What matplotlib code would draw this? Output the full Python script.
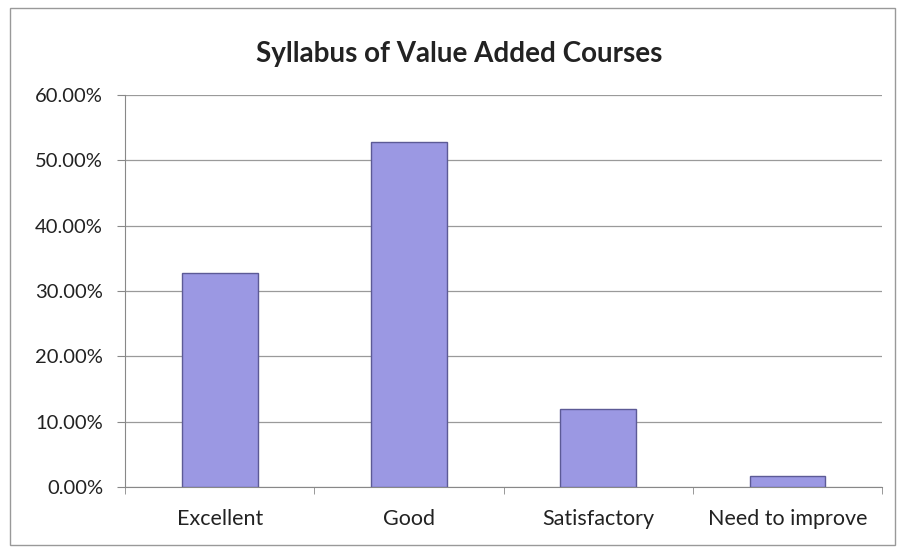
import matplotlib.pyplot as plt
from matplotlib.patches import Rectangle
from matplotlib.ticker import FuncFormatter, FixedLocator
import numpy as np

categories = ["Excellent", "Good", "Satisfactory", "Need to improve"]
values = [32.7, 52.8, 11.9, 1.7]
y_ticks = [0, 10, 20, 30, 40, 50, 60]

plt.rcParams['font.family'] = ['Lato', 'DejaVu Sans']

fig = plt.figure(figsize=(9.01, 5.48), dpi=100)
ax = fig.add_axes([0.139, 0.111, 0.840, 0.716])

x = np.arange(len(categories))
ax.bar(x, values, width=0.4, color='#9b98e3', edgecolor='#5c5a96', linewidth=1.0, zorder=3)

ax.set_xlim(-0.5, len(categories) - 0.5)
ax.set_ylim(0, 60)
ax.set_yticks(y_ticks)
ax.yaxis.set_major_formatter(FuncFormatter(lambda v, p: f"{v:.2f}%"))
ax.set_xticks(x)
ax.set_xticklabels(categories)
ax.xaxis.set_minor_locator(FixedLocator(np.arange(-0.5, len(categories), 1.0)))
ax.tick_params(axis='x', which='major', length=0, pad=16, labelsize=15.5, colors='#222222')
ax.tick_params(axis='x', which='minor', length=5, color='#888888')
ax.tick_params(axis='y', length=6, color='#888888', labelsize=14.5, pad=10, labelcolor='#222222')

ax.grid(axis='y', color='#9a9a9a', linewidth=0.9, zorder=0)
for s in ['top', 'right']:
    ax.spines[s].set_visible(False)
ax.spines['left'].set_color('#888888')
ax.spines['bottom'].set_color('#888888')

fig.suptitle("Syllabus of Value Added Courses", fontsize=20, fontweight='bold',
             x=0.51, y=0.925, color='#222222')

# outer chart border
fig.patches.append(Rectangle((0.011, 0.005), 0.982, 0.98, transform=fig.transFigure,
                             fill=False, edgecolor='#999999', linewidth=1.0))

fig.savefig("out.png", dpi=100)
